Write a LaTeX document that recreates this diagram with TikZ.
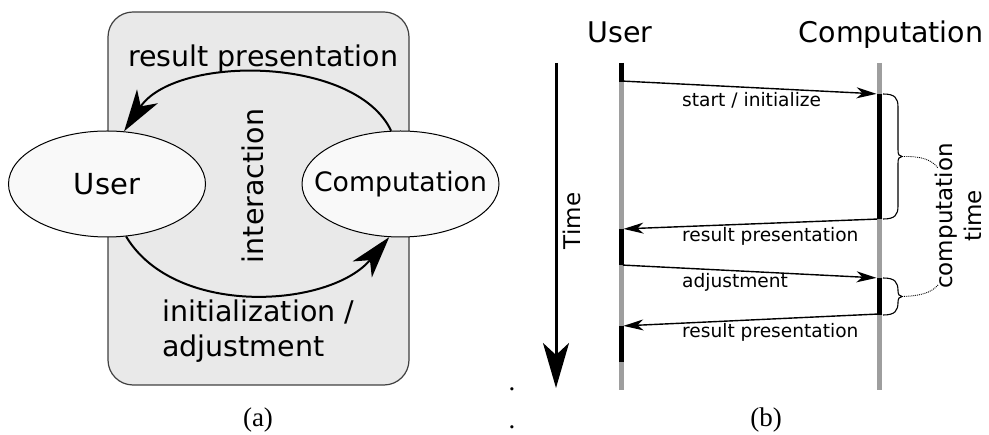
\documentclass[tikz,border=0pt]{standalone}
\usepackage{fontspec}
\setmainfont{DejaVu Sans}
\newfontfamily\capfont{Liberation Serif}
\usetikzlibrary{shapes.geometric,arrows.meta,calc}

\definecolor{panelfill}{RGB}{233,233,233}
\definecolor{actorfill}{RGB}{249,249,249}
\definecolor{lifegray}{RGB}{158,158,158}

% curly brace with long arms and a short tip, drawn between two named points
\newcommand{\timebrace}[3]{%
  \draw[line width=1.1pt]
    (#1) .. controls ($(#1)+(12,0)$) and ($(#1)+(15,4)$) .. ($(#1)+(15,13)$)
    -- ($(#3)+(-4,-7)$) .. controls ($(#3)+(-4,-2)$) and ($(#3)+(-3,0)$) .. (#3)
    .. controls ($(#3)+(-3,0)$) and ($(#3)+(-4,2)$) .. ($(#3)+(-4,7)$)
    -- ($(#2)+(15,-13)$) .. controls ($(#2)+(15,-4)$) and ($(#2)+(12,0)$) .. (#2);}

\begin{document}
\begin{tikzpicture}[x=1pt,y=-1pt,
  actor/.style={ellipse, draw=black, line width=1pt, fill=actorfill,
    minimum width=197pt, minimum height=106pt, inner sep=0pt},
  biglabel/.style={font=\fontsize{28.5}{35}\selectfont, inner sep=0pt},
  msglabel/.style={font=\fontsize{18.6}{22}\selectfont, inner sep=0pt, anchor=base west},
  flow/.style={line width=2pt, -{Stealth[length=42pt,width=25pt,inset=12pt]}},
  msg/.style={line width=1.4pt, -{Stealth[length=20pt,width=11pt,inset=6pt]}},
  life/.style={line width=5pt, lifegray},
  busy/.style={line width=5pt, black},
  caption/.style={font=\capfont\fontsize{27}{32}\selectfont, inner sep=0pt, anchor=base},
]
\useasboundingbox (0,0) rectangle (989,435);

% ---------- (a) interaction loop ----------
\draw[draw=black!75, line width=1.2pt, fill=panelfill, rounded corners=25pt]
  (108,12) rectangle (409,385);

% zero-width boxes keep the ellipses at their set size
\node[actor, font=\fontsize{29}{34}\selectfont] (user) at (107,184)
  {\makebox[0pt]{User}};
\node[actor, font=\fontsize{26.7}{32}\selectfont] (comp) at (400.5,184)
  {\makebox[0pt]{Computation}};

\draw[flow] (comp.100) .. controls (355,55) and (175,55) .. (user.72);
\draw[flow] (user.-70) .. controls (175,318) and (330,308) .. (comp.-102);

\node[biglabel, anchor=base west] (respres) at (128,67) {result presentation};
\node[biglabel, rotate=90, anchor=base] (inter) at (263,186) {interaction};
\node[biglabel, anchor=north west, align=left] (initadj) at (162,300)
  {initialization /\\adjustment};

\node[caption] (capa) at (258,427) {(a)};
\node[caption] (dot1) at (512,390.5) {.};
\node[caption] (dot2) at (512,428.5) {.};

% ---------- (b) sequence over time ----------
\node[biglabel, anchor=base] (uhead) at (620,43) {User};
\node[biglabel, anchor=base] (chead) at (891,43) {Computation};

\coordinate (ttop) at (556,63);
\coordinate (tbot) at (556,388);
\draw[line width=3pt, -{Stealth[length=45pt,width=26pt,inset=12pt]}] (ttop) -- (tbot);
\node[font=\fontsize{23}{28}\selectfont, rotate=90, anchor=base, inner sep=0pt]
  (time) at (580,221) {Time};

% lifelines
\coordinate (utop) at (621,63);  \coordinate (ubot) at (621,390);
\coordinate (ctop) at (879,63);  \coordinate (cbot) at (879,390);
\draw[life] (utop) -- (ubot);
\draw[life] (ctop) -- (cbot);

% active phases
\coordinate (u1a) at (621,63);   \coordinate (u1b) at (621,82);
\coordinate (u2a) at (621,229);  \coordinate (u2b) at (621,265);
\coordinate (u3a) at (621,326);  \coordinate (u3b) at (621,362);
\coordinate (c1a) at (879,94);   \coordinate (c1b) at (879,219);
\coordinate (c2a) at (879,278);  \coordinate (c2b) at (879,315);
\draw[busy] (u1a) -- (u1b);
\draw[busy] (u2a) -- (u2b);
\draw[busy] (u3a) -- (u3b);
\draw[busy] (c1a) -- (c1b);
\draw[busy] (c2a) -- (c2b);

% messages
\draw[msg, shorten <=2pt, shorten >=2.5pt] ($(u1b)+(0,-1)$) -- (c1a);
\draw[msg, shorten <=2pt, shorten >=2.5pt] (c1b) -- (u2a);
\draw[msg, shorten <=2pt, shorten >=2.5pt] (u2b) -- (c2a);
\draw[msg, shorten <=2pt, shorten >=2.5pt] ($(c2b)+(0,-1)$) -- (u3a);

\node[msglabel] (m1) at (682,107) {start / initialize};
\node[msglabel] (m2) at (682,242) {result presentation};
\node[msglabel] (m3) at (682,288) {adjustment};
\node[msglabel] (m4) at (682,338) {result presentation};

% computation time braces
\coordinate (b1t) at (883,94);   \coordinate (b1b) at (883,219);
\coordinate (b1m) at (902,156.5);
\coordinate (b2t) at (883,278);  \coordinate (b2b) at (883,315);
\coordinate (b2m) at (902,296.5);
\timebrace{b1t}{b1b}{b1m}
\timebrace{b2t}{b2b}{b2m}

\node[font=\fontsize{23}{29}\selectfont, rotate=90, align=center, inner sep=0pt]
  (ctime) at (958,216) {computation\\time};
\coordinate (d1) at (938,168);
\coordinate (d2) at (938,285);
\draw[densely dotted, line width=0.9pt] (b1m) .. controls (920,156) and (931,159) .. (d1);
\draw[densely dotted, line width=0.9pt] (b2m) .. controls (920,296) and (931,293) .. (d2);

\node[caption] (capb) at (766,427) {(b)};
\end{tikzpicture}
\end{document}
